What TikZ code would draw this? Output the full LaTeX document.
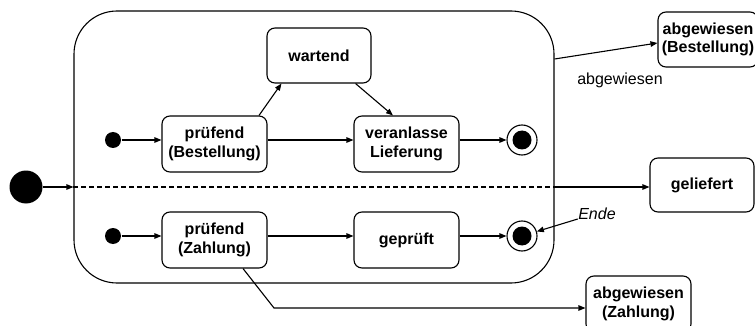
\documentclass[tikz,border=0pt]{standalone}
\usepackage{fontspec}
\setmainfont{Liberation Sans}
\usetikzlibrary{arrows.meta}
\begin{document}
\begin{tikzpicture}[x=1pt,y=-1pt,
  line width=1.1pt,
  every node/.style={font=\fontsize{16}{18.5}\selectfont},
  state/.style={draw, rounded corners=8pt, minimum width=105pt, minimum height=56pt,
    align=center, inner sep=0pt, font=\fontsize{16}{18.5}\selectfont\bfseries},
  arr/.style={-{Triangle[length=7pt,width=5.5pt]}},
  ini/.style={circle, fill, inner sep=0pt, minimum size=16pt},
  fin/.style={circle, draw, fill=white, inner sep=0pt, minimum size=30pt},
  dashline/.style={dash pattern=on 5pt off 3pt},
]
\useasboundingbox (0,0) rectangle (755,326);

% composite state
\node[draw, rounded corners=43pt, minimum width=480pt, minimum height=272pt, inner sep=0pt] (comp) at (314,147) {};

% upper region
\node[ini] (ini1) at (113,140) {};
\node[state] (pB) at (214.5,144) {prüfend\\(Bestellung)};
\node[state, minimum width=104pt, minimum height=55pt] (wart) at (319,55.5) {wartend};
\node[state] (ver) at (406.5,144) {veranlasse\\Lieferung};
\node[fin] (fin1) at (522,140) {};
\fill (fin1.center) circle (9.5pt);

% lower region
\node[ini] (ini2) at (113,236) {};
\node[state] (pZ) at (214.5,240) {prüfend\\(Zahlung)};
\node[state] (gep) at (406.5,240) {geprüft};
\node[fin] (fin2) at (522,236) {};
\fill (fin2.center) circle (9.5pt);

% outer states
\node[ini, minimum size=33pt] (big) at (26,187) {};
\node[state, minimum width=104pt, minimum height=54pt] (gel) at (702,185) {geliefert};
\node[state, minimum width=100pt, minimum height=55pt] (abgB) at (708,39.5) {abgewiesen\\(Bestellung)};
\node[state] (abgZ) at (638.5,304) {abgewiesen\\(Zahlung)};

% labels
\node[inner sep=0pt] (lblAbg) at (620,80) {abgewiesen};
\node[inner sep=0pt, font=\fontsize{16}{18.5}\selectfont\itshape] (ende) at (597,214) {Ende};

% transitions
\draw[arr] (ini1) -- (ini1 -| pB.west);
\draw[arr] (ini1 -| pB.east) -- (ini1 -| ver.west);
\draw[arr] (ini1 -| ver.east) -- (fin1);
\draw[arr] ([xshift=44.5pt]pB.north) -- ([xshift=15pt]wart.south west);
\draw[arr] ([xshift=-16pt]wart.south east) -- ([xshift=-13.5pt]ver.north);

\draw[arr] (ini2) -- (ini2 -| pZ.west);
\draw[arr] (ini2 -| pZ.east) -- (ini2 -| gep.west);
\draw[arr] (ini2 -| gep.east) -- (fin2);

\coordinate (cw) at (big -| comp.west);
\coordinate (ce) at (big -| comp.east);
\draw[arr] (big) -- (cw);
\draw[dashline] (cw) -- (ce);
\draw[arr] (ce) -- (big -| gel.west);

\draw[arr] ([yshift=88pt]comp.east) -- ([yshift=-3.5pt]abgB.west);

\coordinate (bend) at (274,308);
\draw[arr] ([xshift=28.5pt]pZ.south) -- (bend) -- (bend -| abgZ.west);

\draw[arr] ([yshift=-5pt]ende.west) -- (fin2);
\end{tikzpicture}
\end{document}
